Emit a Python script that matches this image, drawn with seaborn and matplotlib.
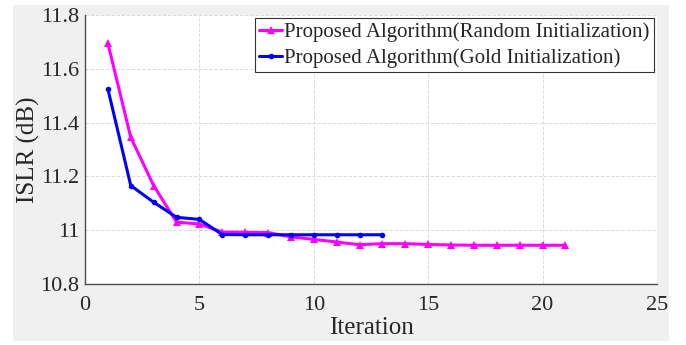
import numpy as np
import pandas as pd
import matplotlib
matplotlib.use("Agg")
import matplotlib.pyplot as plt
import seaborn as sns
from matplotlib.patches import Rectangle
from matplotlib.ticker import FuncFormatter

# valores
iter_random = list(range(1, 22))
islr_random = [11.695, 11.345, 11.166, 11.030, 11.023, 10.993, 10.992, 10.991,
               10.975, 10.966, 10.956, 10.946, 10.950, 10.950, 10.947, 10.945,
               10.944, 10.944, 10.944, 10.944, 10.944]
iter_gold = list(range(1, 14))
islr_gold = [11.525, 11.166, 11.104, 11.048, 11.040, 10.984, 10.983, 10.983,
             10.983, 10.983, 10.983, 10.983, 10.983]

label_random = "Proposed Algorithm(Random Initialization)"
label_gold = "Proposed Algorithm(Gold Initialization)"

sns.set_style("white")
plt.rcParams['font.family'] = ['Liberation Serif', 'DejaVu Serif']

fig = plt.figure(figsize=(6.86, 3.45), dpi=100)
fig.patch.set_facecolor("white")
# fondo gris tipo MATLAB
fig.patches.append(Rectangle((13 / 686, 4 / 345), 656 / 686, 336 / 345,
                             transform=fig.transFigure, facecolor="#f0f0f0",
                             edgecolor="none", zorder=-10))
ax = fig.add_axes([85 / 686, 61 / 345, 572 / 686, 269 / 345])
ax.set_facecolor("white")

df_r = pd.DataFrame({"Iteration": iter_random, "ISLR": islr_random})
df_g = pd.DataFrame({"Iteration": iter_gold, "ISLR": islr_gold})

sns.lineplot(data=df_r, x="Iteration", y="ISLR", ax=ax, color="#ff00ff",
             linewidth=2.2, marker="^", markersize=6, markeredgewidth=0,
             label=label_random)
sns.lineplot(data=df_g, x="Iteration", y="ISLR", ax=ax, color="#0000ff",
             linewidth=2.2, marker="o", markersize=4, markeredgewidth=0,
             label=label_gold)

ax.set_xlim(0, 25)
ax.set_ylim(10.8, 11.8)
ax.set_xticks([0, 5, 10, 15, 20, 25])
ax.set_yticks([10.8, 11.0, 11.2, 11.4, 11.6, 11.8])
ax.yaxis.set_major_formatter(FuncFormatter(lambda v, p: f"{v:g}"))

ax.grid(True, linestyle="--", color="#dcdcdc", linewidth=0.7)
for s in ["top", "right"]:
    ax.spines[s].set_visible(False)
for s in ["left", "bottom"]:
    ax.spines[s].set_color("#4d4d4d")
    ax.spines[s].set_linewidth(1.0)
ax.tick_params(direction="in", length=4, width=0.8, color="#4d4d4d",
               labelsize=16, labelcolor="#262626")
ax.tick_params(axis="x", pad=9)
ax.tick_params(axis="y", pad=4)

ax.set_xlabel("Iteration", fontsize=18, labelpad=1)
ax.set_ylabel("ISLR (dB)", fontsize=18, labelpad=0)

leg = ax.legend(loc="upper right", fontsize=15, frameon=True, fancybox=False,
                handlelength=1.1, handletextpad=0.1, borderpad=0.2,
                labelspacing=0.3, borderaxespad=0.15)
leg.get_frame().set_edgecolor("#333333")
leg.get_frame().set_linewidth(0.8)
leg.get_frame().set_alpha(1)

fig.savefig("out.png", dpi=100)
